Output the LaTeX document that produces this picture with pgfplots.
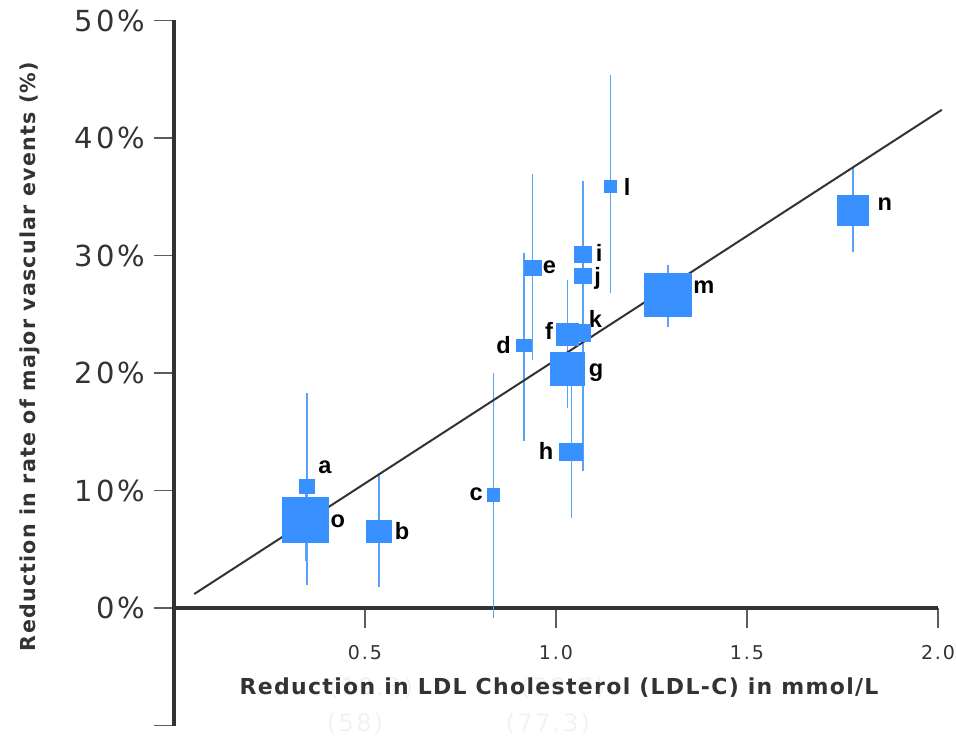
\documentclass[border=0pt]{standalone}
\usepackage{fontspec}
\setmainfont{DejaVu Sans}
\newfontfamily\lblfont{Liberation Sans}
\newfontfamily\titlefont{DejaVu Sans}[LetterSpace=6]
\newfontfamily\tickfont{DejaVu Sans}[LetterSpace=10]
\usepackage{pgfplots}
\pgfplotsset{compat=1.18}
\usepackage{pgfplotstable}

\definecolor{boxblue}{RGB}{56,145,255}
\definecolor{barblue}{RGB}{88,162,250}
\definecolor{axisgray}{RGB}{51,51,51}
\definecolor{ghost}{RGB}{242,242,242}

% filled rectangle, half sizes taken from \bw and \bh (pixels of the reference)
\pgfdeclareplotmark{rbox}{%
  \pgfpathrectangle{\pgfpoint{-0.25pt*\bw}{-0.25pt*\bh}}{\pgfpoint{0.5pt*\bw}{0.5pt*\bh}}%
  \pgfusepathqfill}

% trials: LDL-C reduction, event reduction (%), CI above/below, box width/height
\pgfplotstableread{
name x     y     ep    em    w    h
o    0.345 7.49  3.50  3.50  47.3 46.7
a    0.348 10.34 7.96  8.34  15.7 15.0
b    0.536 6.53  4.94  4.73  25.7 22.7
c    0.837 9.62  10.38 10.50 13.0 13.3
d    0.916 22.36 7.84  8.16  16.7 12.7
e    0.939 28.94 7.96  7.84  17.7 16.0
k    1.071 23.40 6.50  11.70 16.0 18.0
f    1.030 23.29 4.61  6.29  22.3 23.3
g    1.030 20.34 2.50  2.50  35.0 33.3
h    1.040 13.26 5.74  5.56  24.0 17.7
i    1.071 30.07 6.23  6.00  18.3 17.3
j    1.071 28.26 4.50  5.00  18.3 16.7
l    1.143 35.89 9.51  9.09  13.0 12.7
m    1.293 26.64 2.55  2.75  47.7 43.3
n    1.778 33.85 3.71  3.53  32.0 30.7
}\trials

\begin{document}
\begin{tikzpicture}[
  lbl/.style={font=\lblfont\bfseries\fontsize{11.8}{12}\selectfont, inner sep=0pt},
  ghosttxt/.style={font=\tickfont\fontsize{12}{13}\selectfont, text=ghost, inner sep=0pt}]
\begin{axis}[
    scale only axis,
    width=382pt, height=352.5pt,
    xmin=0, xmax=2, ymin=-10, ymax=50,
    enlargelimits=false,
    clip=false,
    axis x line=middle,
    axis y line=left,
    axis line style={-, line width=2pt, draw=axisgray},
    tick align=outside,
    major tick length=10pt,
    tick style={draw=axisgray!80, line width=0.7pt},
    xtick={0.5,1,1.5,2},
    xticklabels={0.5,1.0,1.5,2.0},
    ytick={-10,0,10,20,30,40,50},
    yticklabels={{},0\%,10\%,20\%,30\%,40\%,50\%},
    xticklabel style={font=\tickfont\fontsize{9.5}{11}\selectfont, text=axisgray, yshift=-5.3pt},
    yticklabel style={font=\tickfont\fontsize{14.5}{16}\selectfont, text=axisgray, xshift=-1pt},
]

% mg/dL ghost labels (white in the original)
\node[ghosttxt] at (axis cs:0.516,-6.81) {(19.3)};
\node[ghosttxt] at (axis cs:1.018,-6.81) {(38.7)};
\node[ghosttxt] at (axis cs:0.474,-9.87) {(58)};
\node[ghosttxt] at (axis cs:0.979,-9.87) {(77.3)};

% confidence intervals
\addplot[only marks, mark=none,
    error bars/.cd, y dir=both, y explicit, error mark=none,
    error bar style={draw=barblue, line width=0.75pt}]
  table[x=x, y=y, y error plus=ep, y error minus=em] {\trials};

% regression line
\addplot[draw=axisgray, line width=1pt] coordinates {(0.053,1.19) (2.01,42.4)};

% trial boxes
\addplot[scatter, only marks, mark=rbox,
    point meta=\thisrow{w},
    scatter/use mapped color={draw=none, fill=boxblue},
    visualization depends on={\thisrow{w}\as\bw},
    visualization depends on={\thisrow{h}\as\bh}]
  table[x=x, y=y] {\trials};

\node[lbl] at (axis cs:0.395,11.96) {a};
\node[lbl] at (axis cs:0.429,7.40) {o};
\node[lbl] at (axis cs:0.597,6.55) {b};
\node[lbl] at (axis cs:0.791,9.70) {c};
\node[lbl] at (axis cs:0.863,22.38) {d};
\node[lbl] at (axis cs:0.983,28.98) {e};
\node[lbl] at (axis cs:0.982,23.57) {f};
\node[lbl] at (axis cs:1.105,20.06) {g};
\node[lbl] at (axis cs:0.974,13.40) {h};
\node[lbl] at (axis cs:1.113,30.21) {i};
\node[lbl] at (axis cs:1.109,28.02) {j};
\node[lbl] at (axis cs:1.103,24.60) {k};
\node[lbl] at (axis cs:1.186,35.86) {l};
\node[lbl] at (axis cs:1.387,27.34) {m};
\node[lbl] at (axis cs:1.861,34.34) {n};

\node[anchor=base, text=axisgray, font=\titlefont\bfseries\fontsize{11}{13}\selectfont]
  at (axis cs:1.008,-7.40) {Reduction in LDL Cholesterol (LDL-C) in mmol/L};
\node[rotate=90, text=axisgray, font=\titlefont\bfseries\fontsize{10.3}{12}\selectfont]
  at (axis cs:-0.377,21.4) {Reduction in rate of major vascular events (\%)};

\coordinate (bbll) at (axis cs:-0.4555,-11.064);
\coordinate (bbur) at (axis cs:2.0471,51.745);
\end{axis}
\pgfresetboundingbox
\useasboundingbox (bbll) rectangle (bbur);
\end{tikzpicture}
\end{document}
